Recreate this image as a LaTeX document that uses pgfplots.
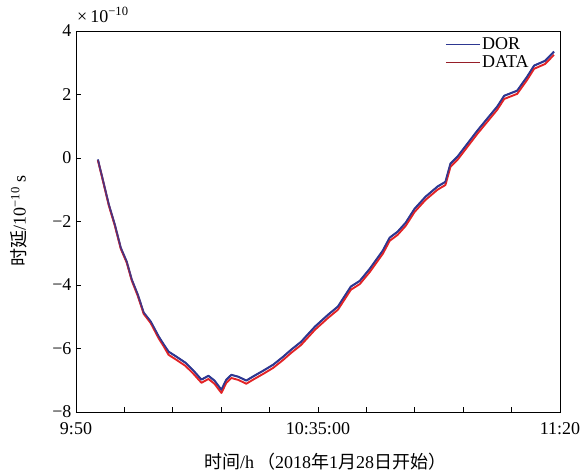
\documentclass[border=0pt]{standalone}
\usepackage{pgfplots}
\pgfplotsset{compat=1.18}
\usepackage{fontspec}
\setmainfont{Liberation Serif}
\newfontfamily\cjk{Noto Sans CJK SC}
\definecolor{dorblue}{RGB}{45,55,145}
\definecolor{datared}{RGB}{226,35,38}
\definecolor{legred}{RGB}{150,30,40}
\pgfplotstableread{
x y
4.07 -0.05
4.81 -0.56
6.11 -1.47
7.22 -2.10
8.33 -2.83
9.44 -3.27
10.37 -3.83
11.48 -4.30
12.59 -4.87
13.89 -5.15
15.37 -5.62
16.30 -5.87
17.22 -6.10
18.70 -6.26
20.37 -6.45
21.85 -6.70
23.33 -6.98
24.63 -6.86
25.74 -7.01
27.04 -7.30
27.96 -6.98
28.89 -6.83
30.19 -6.89
31.67 -7.01
33.15 -6.86
34.81 -6.70
36.67 -6.51
38.52 -6.26
40.00 -6.04
41.85 -5.79
44.44 -5.31
46.85 -4.94
48.70 -4.68
51.11 -4.05
52.78 -3.87
54.63 -3.49
57.04 -2.92
58.33 -2.51
59.81 -2.32
61.30 -2.04
62.96 -1.60
65.00 -1.22
67.22 -0.90
68.70 -0.75
69.63 -0.18
70.93 0.04
72.78 0.45
74.63 0.86
76.48 1.24
78.33 1.62
79.63 1.96
82.04 2.12
83.89 2.56
85.19 2.91
87.22 3.06
88.89 3.35
}\dortable
\pgfplotstableread{
x y
4.07 -0.07
4.81 -0.58
6.11 -1.50
7.22 -2.13
8.33 -2.86
9.44 -3.30
10.37 -3.86
11.48 -4.34
12.59 -4.91
13.89 -5.20
15.37 -5.68
16.30 -5.93
17.22 -6.20
18.70 -6.36
20.37 -6.55
21.85 -6.80
23.33 -7.08
24.63 -6.96
25.74 -7.11
27.04 -7.40
27.96 -7.08
28.89 -6.93
30.19 -6.99
31.67 -7.11
33.15 -6.96
34.81 -6.80
36.67 -6.61
38.52 -6.36
40.00 -6.14
41.85 -5.89
44.44 -5.41
46.85 -5.04
48.70 -4.78
51.11 -4.15
52.78 -3.97
54.63 -3.59
57.04 -3.02
58.33 -2.61
59.81 -2.42
61.30 -2.14
62.96 -1.70
65.00 -1.32
67.22 -1.00
68.70 -0.85
69.63 -0.28
70.93 -0.06
72.78 0.35
74.63 0.76
76.48 1.14
78.33 1.52
79.63 1.86
82.04 2.02
83.89 2.46
85.19 2.81
87.22 2.96
88.89 3.25
}\datatable
\begin{document}
\begin{tikzpicture}
\useasboundingbox (-76pt,-61pt) rectangle (508pt,412pt);
\begin{axis}[
  at={(0pt,0pt)}, anchor=south west,
  scale only axis, width=484pt, height=381pt,
  xmin=0, xmax=90, ymin=-8, ymax=4,
  xtick={0,9,...,90},
  xticklabels={9:50,,,,,10:35:00,,,,,11:20},
  ytick={-8,-6,-4,-2,0,2,4},
  yticklabels={−8,−6,−4,−2,0,2,4},
  xtick pos=bottom, ytick pos=left,
  tick align=inside,
  major tick length=5pt,
  tick style={black, line width=0.6pt},
  axis line style={line width=0.8pt},
  ticklabel style={font=\fontsize{18}{21}\selectfont},
  xticklabel style={yshift=-7pt},
  yticklabel style={xshift=-1pt},
  scaled y ticks=false,
  legend style={draw=none, fill=none, at={(0.942,0.99)}, anchor=north east,
    font=\fontsize{18}{21}\selectfont, row sep=0pt, inner sep=1pt,
    legend cell align=left},
  legend image code/.code={\draw[#1, line width=0.7pt] (0pt,0pt) -- (34pt,0pt);},
]
\addplot[color=dorblue, line width=2pt, line join=round] table[x=x,y=y] {\dortable};
\addlegendentry{DOR}
\addplot[color=datared, line width=1.9pt, line join=round, legend image post style={color=legred, line width=0.7pt}] table[x=x,y=y] {\datatable};
\addlegendentry{DATA}
\addplot[color=dorblue, line width=1.4pt, line join=round, forget plot, opacity=0.85] table[x=x,y=y] {\dortable};
\end{axis}
\node[anchor=west, font=\fontsize{18}{21}\selectfont, inner sep=0pt] at (1pt,397pt) {×\,10\textsuperscript{−10}};
\node[font=\fontsize{18}{21}\selectfont, inner sep=0pt] at (249pt,-50pt) {{\cjk 时间}/h\,{\cjk （}2018{\cjk 年}1{\cjk 月}28{\cjk 日开始）}};
\node[font=\fontsize{18}{21}\selectfont, inner sep=0pt, rotate=90] at (-57pt,191pt) {{\cjk 时延}/10\textsuperscript{−10} s};
\end{tikzpicture}
\end{document}
